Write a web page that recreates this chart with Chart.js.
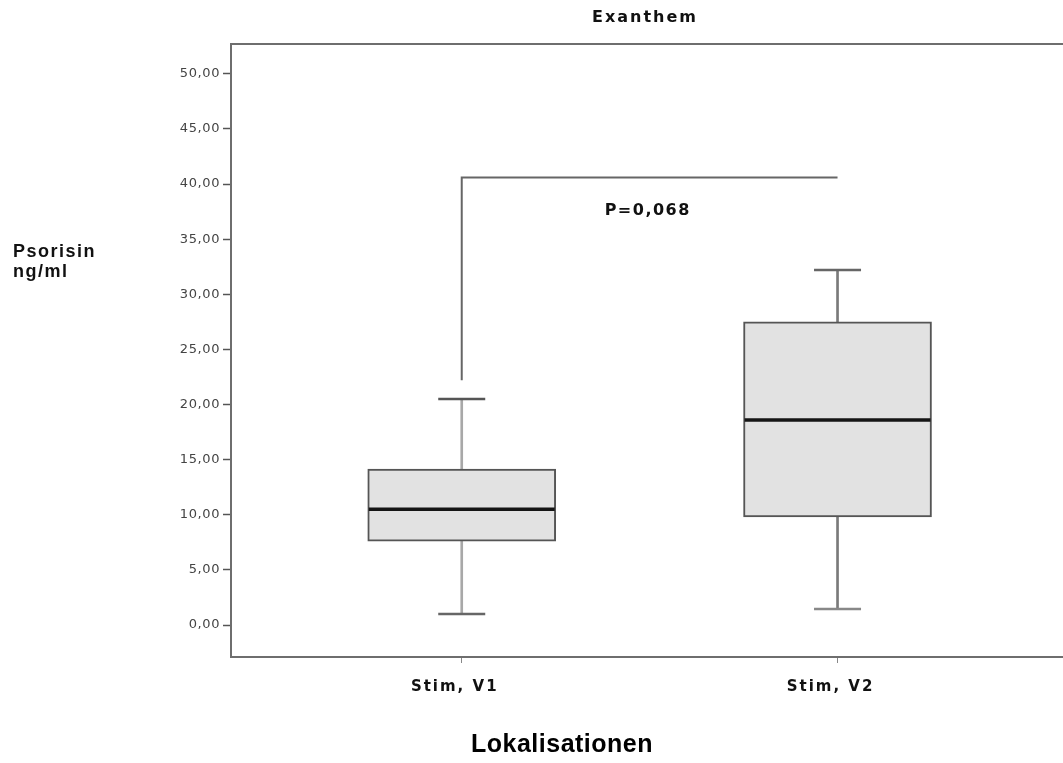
<!DOCTYPE html>
<html>
<head>
<meta charset="utf-8">
<script src="https://cdn.jsdelivr.net/npm/chart.js@4.4.1/dist/chart.umd.min.js"></script>
<style>
  html, body { margin: 0; padding: 0; background: #ffffff; }
  #wrap { width: 1063px; height: 763px; }
</style>
</head>
<body>
<div id="wrap"><canvas id="c" width="1063" height="763"></canvas></div>
<script>
// ---- data ----
const categories = ['Stim, V1', 'Stim, V2'];
const categoryPos = [1, 2];
const whiskerLow = [1.0, 1.45];
const quartile1 = [7.6, 9.8];
const medians = [10.5, 18.6];
const quartile3 = [14.15, 27.5];
const whiskerHigh = [20.5, 32.2];
const yTickValues = [0, 5, 10, 15, 20, 25, 30, 35, 40, 45, 50];
const bracketX = [1, 1, 2];
const bracketY = [22.2, 40.6, 40.6];
const pValueText = 'P=0,068';
const pValuePos = { x: 1.495, y: 37.6 };
const chartTitle = 'Exanthem';
const yTitleLines = ['Psorisin', 'ng/ml'];
const xTitle = 'Lokalisationen';

const pts = (ys) => categoryPos.map((x, i) => ({ x: x, y: ys[i] }));
const ranges = (a, b) => categoryPos.map((x, i) => ({ x: x, y: [a[i], b[i]] }));

// letter spacing for the tick labels (the reference font is very wide)
const spacedLabels = {
  id: 'spacedLabels',
  afterLayout(chart) {
    const spacing = { x: '2px', y: '0.6px' };
    Object.keys(spacing).forEach(id => {
      const s = chart.scales[id];
      if (s && !s._spacedPatched) {
        const orig = s.drawLabels;
        s.drawLabels = function (area) {
          const ctx = this.ctx;
          ctx.save();
          ctx.letterSpacing = spacing[id];
          orig.call(this, area);
          ctx.restore();
        };
        s._spacedPatched = true;
      }
    });
  }
};

const extraText = {
  id: 'extraText',
  afterDraw(chart) {
    const ctx = chart.ctx;
    const a = chart.chartArea;
    const xs = chart.scales.x, ys = chart.scales.y;
    ctx.save();
    // top frame line
    ctx.strokeStyle = '#6e6e6e';
    ctx.lineWidth = 2;
    ctx.beginPath();
    ctx.moveTo(a.left - 1, a.top);
    ctx.lineTo(a.right, a.top);
    ctx.stroke();
    ctx.textBaseline = 'middle';
    // title
    ctx.fillStyle = '#111';
    ctx.textAlign = 'center';
    ctx.letterSpacing = '2px';
    ctx.font = 'bold 16px "DejaVu Sans", sans-serif';
    ctx.fillText(chartTitle, 645, 18);
    // p-value
    ctx.letterSpacing = '1.5px';
    ctx.font = 'bold 16px "DejaVu Sans", sans-serif';
    ctx.fillText(pValueText, xs.getPixelForValue(pValuePos.x), ys.getPixelForValue(pValuePos.y));
    // y title (horizontal, left)
    ctx.letterSpacing = '1.5px';
    ctx.font = 'bold 18px "Liberation Sans", Arial, sans-serif';
    ctx.textAlign = 'left';
    ctx.fillText(yTitleLines[0], 13, 252);
    ctx.fillText(yTitleLines[1], 13, 272);
    // x title
    ctx.letterSpacing = '0.5px';
    ctx.font = 'bold 25px "Liberation Sans", Arial, sans-serif';
    ctx.textAlign = 'center';
    ctx.fillStyle = '#000';
    ctx.fillText(xTitle, 562, 745);
    ctx.restore();
  }
};

new Chart(document.getElementById('c'), {
  type: 'bar',
  data: {
    datasets: [
      {
        label: 'box',
        data: ranges(quartile1, quartile3),
        backgroundColor: '#e2e2e2',
        borderColor: '#555555',
        borderWidth: 2,
        borderSkipped: false,
        barThickness: 188,
        grouped: false,
        order: 3
      },
      {
        label: 'lower whisker',
        data: ranges(whiskerLow, quartile1),
        backgroundColor: ['#a8a8a8', '#7a7a7a'],
        borderWidth: 0,
        barThickness: 2,
        grouped: false,
        order: 4
      },
      {
        label: 'upper whisker',
        data: ranges(quartile3, whiskerHigh),
        backgroundColor: ['#a8a8a8', '#7a7a7a'],
        borderWidth: 0,
        barThickness: 2,
        grouped: false,
        order: 4
      },
      {
        type: 'scatter',
        label: 'caps',
        data: pts(whiskerLow).concat(pts(whiskerHigh)),
        pointStyle: 'line',
        pointRadius: 23.5,
        borderColor: ['#666666', '#888888', '#555555', '#666666'],
        borderWidth: 2.5,
        order: 1
      },
      {
        type: 'scatter',
        label: 'median',
        data: pts(medians),
        pointStyle: 'line',
        pointRadius: 93,
        borderColor: '#151515',
        borderWidth: 3.5,
        order: 0
      },
      {
        type: 'line',
        label: 'bracket',
        data: bracketX.map((x, i) => ({ x: x, y: bracketY[i] })),
        borderColor: '#666666',
        borderWidth: 2,
        pointRadius: 0,
        fill: false,
        tension: 0,
        order: 5
      }
    ]
  },
  options: {
    responsive: false,
    animation: false,
    events: [],
    layout: { autoPadding: false, padding: { left: 0, right: 0, top: 44, bottom: 0 } },
    plugins: {
      legend: { display: false },
      tooltip: { enabled: false },
      title: { display: false }
    },
    scales: {
      x: {
        type: 'linear',
        min: 0.386,
        max: 2.6,
        offset: false,
        afterBuildTicks: (s) => { s.ticks = categoryPos.map(v => ({ value: v })); },
        afterFit: (s) => { s.height = 106; },
        grid: { drawOnChartArea: false, offset: false, tickLength: 6, color: '#888', tickWidth: 1 },
        border: { display: true, color: '#6e6e6e', width: 2 },
        ticks: {
          autoSkip: false,
          maxRotation: 0,
          padding: 15,
          labelOffset: -7,
          color: '#111',
          font: { family: '"DejaVu Sans", sans-serif', size: 15, weight: 'bold' },
          callback: (v) => { const i = categoryPos.indexOf(v); return i >= 0 ? categories[i] : ''; }
        }
      },
      y: {
        type: 'linear',
        min: -2.9,
        max: 52.7,
        afterBuildTicks: (s) => { s.ticks = yTickValues.map(v => ({ value: v })); },
        afterFit: (s) => { s.width = 231; },
        grid: { drawOnChartArea: false, offset: false, tickLength: 8, color: '#555', tickWidth: 1.5 },
        border: { display: true, color: '#6e6e6e', width: 2 },
        ticks: {
          padding: 3,
          color: '#444',
          font: { family: '"DejaVu Sans", sans-serif', size: 13 },
          callback: (v) => Number(v).toFixed(2).replace('.', ',')
        }
      }
    }
  },
  plugins: [spacedLabels, extraText]
});
</script>
</body>
</html>
